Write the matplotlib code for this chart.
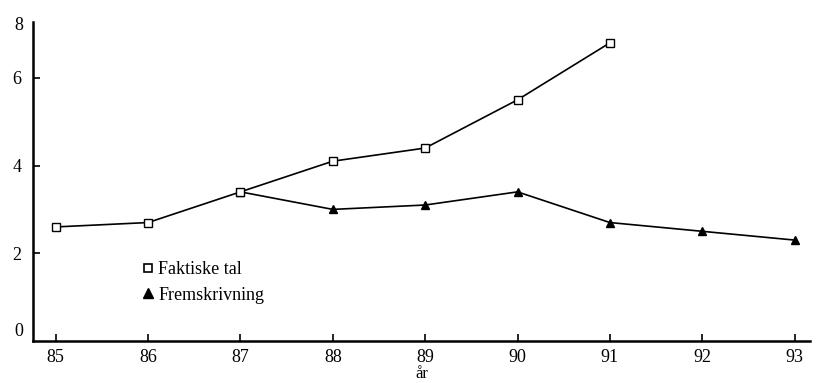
import matplotlib
matplotlib.use("Agg")
import matplotlib.pyplot as plt
from matplotlib.lines import Line2D

plt.rcParams['font.family'] = ['Liberation Serif', 'DejaVu Serif']

# Data
aar_faktisk = [85, 86, 87, 88, 89, 90, 91]
faktisk = [2.6, 2.7, 3.4, 4.1, 4.4, 5.5, 6.8]
aar_frem = [87, 88, 89, 90, 91, 92, 93]
frem = [3.4, 3.0, 3.1, 3.4, 2.7, 2.5, 2.3]
x_ticks = [85, 86, 87, 88, 89, 90, 91, 92, 93]
y_ticks = [2, 4, 6]

fig = plt.figure(figsize=(8.16, 3.83), dpi=100)
ax = fig.add_axes([0.04, 0.11, 0.953, 0.833])

ax.plot(aar_faktisk, faktisk, color='black', lw=1.2, marker='s', ms=6,
        mfc='white', mec='black', mew=1.0, zorder=3)
ax.plot(aar_frem, frem, color='black', lw=1.2, marker='^', ms=6,
        mfc='black', mec='black', zorder=2)

ax.set_xlim(84.75, 93.17)
ax.set_ylim(0, 7.28)
ax.set_xticks(x_ticks)
ax.set_xticklabels([str(t) for t in x_ticks], fontsize=13)
ax.set_yticks(y_ticks)
ax.set_yticklabels([str(t) for t in y_ticks], fontsize=13)
ax.tick_params(axis='both', direction='in', length=5, width=1.2, colors='black')
ax.tick_params(axis='x', pad=6)
ax.tick_params(axis='y', pad=8)

# end labels of the y axis as in the scan
ax.text(-0.012, 0.03, '0', transform=ax.transAxes, ha='right', va='center', fontsize=13)
ax.text(-0.012, 0.99, '8', transform=ax.transAxes, ha='right', va='center', fontsize=13)

for s in ['top', 'right']:
    ax.spines[s].set_visible(False)
for s in ['left', 'bottom']:
    ax.spines[s].set_linewidth(1.8)

ax.set_xlabel('år', fontsize=12, labelpad=0)

handles = [
    Line2D([], [], ls='none', marker='s', ms=6, mfc='white', mec='black', mew=1.2),
    Line2D([], [], ls='none', marker='^', ms=7, mfc='black', mec='black'),
]
ax.legend(handles, ['Faktiske tal', 'Fremskrivning'], loc='upper left',
          bbox_to_anchor=(0.12, 0.30), frameon=False, fontsize=13,
          handlelength=0.6, handletextpad=0.3, labelspacing=0.45)

fig.savefig('out.png', dpi=100)
